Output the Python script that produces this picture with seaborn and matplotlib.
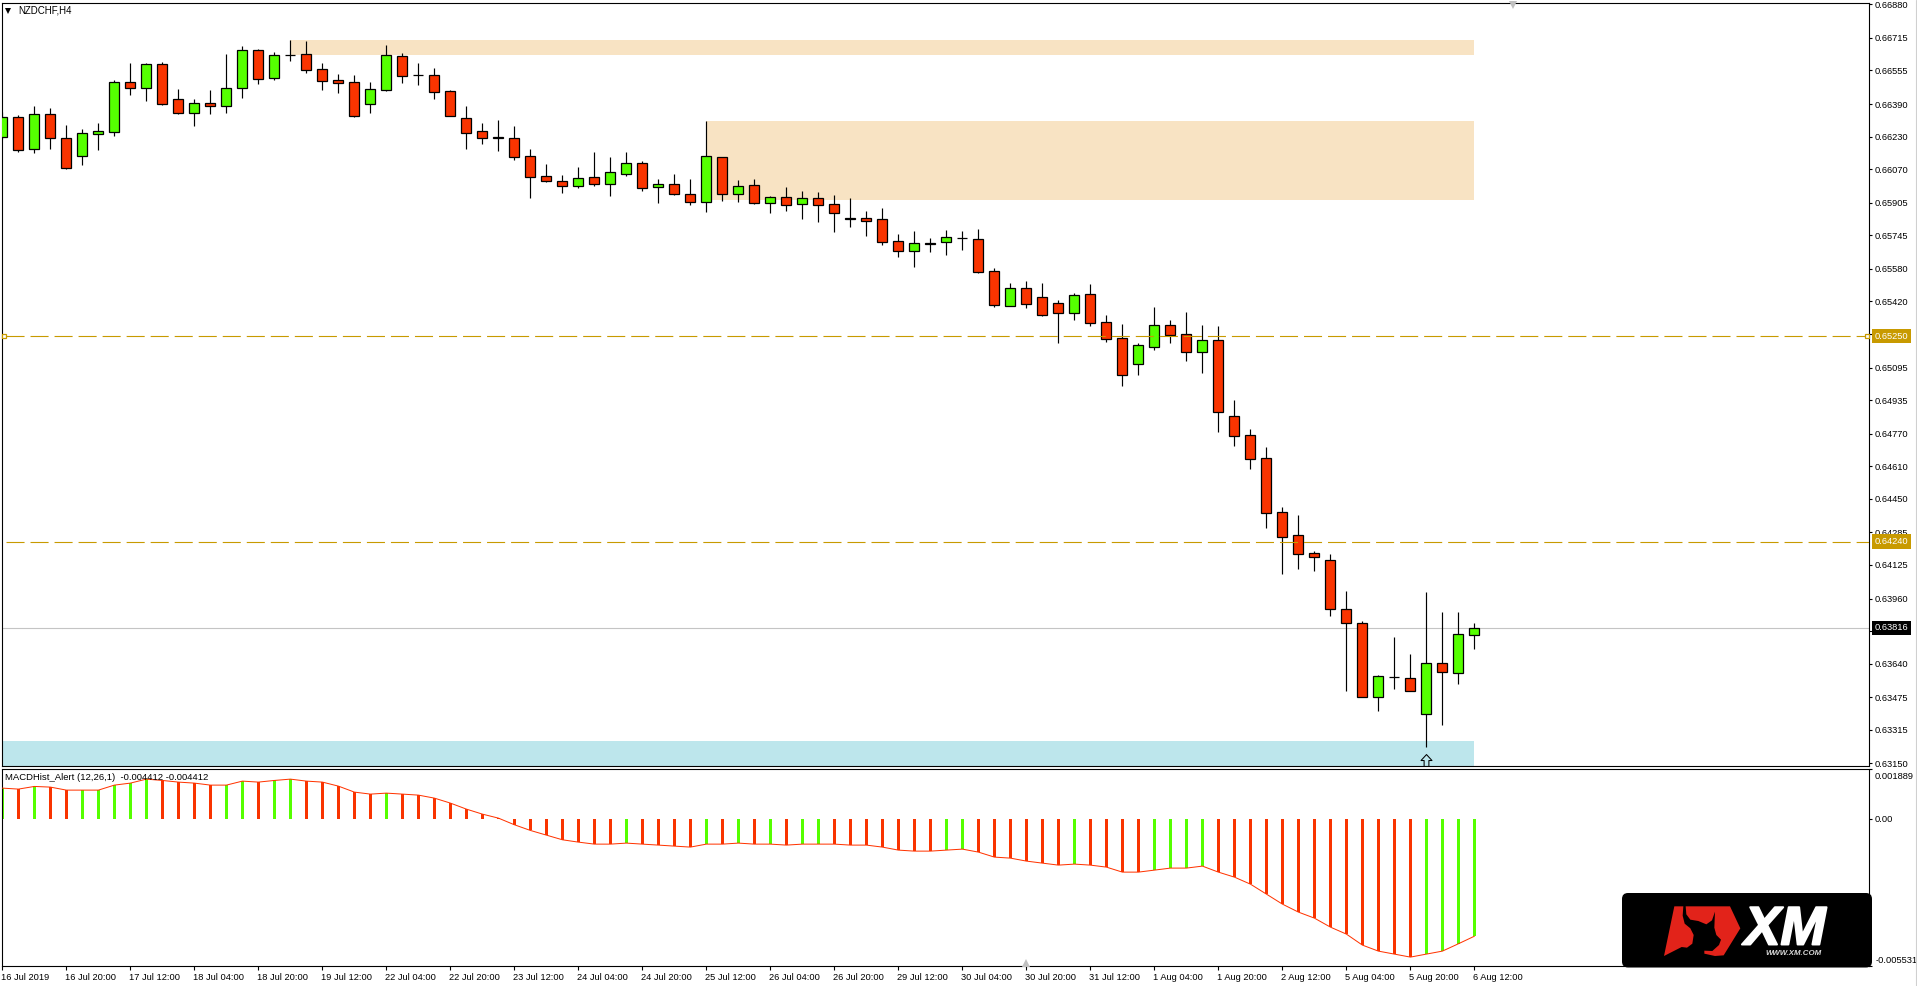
import numpy as np
import pandas as pd
import matplotlib
matplotlib.use("Agg")
import matplotlib.pyplot as plt
import matplotlib.patheffects as pe
from matplotlib.patches import FancyBboxPatch, Polygon
from matplotlib.path import Path
from matplotlib.transforms import ScaledTranslation
import seaborn as sns

# ── Data ───────────────────────────────────────────────────────

bar_open = [
    0.66226, 0.66325, 0.66167, 0.66339, 0.66221, 0.66133, 0.66244, 0.66254, 0.66497, 0.66470,
    0.66585, 0.66413, 0.66348, 0.66393, 0.66379, 0.66467, 0.66654, 0.66520, 0.66629, 0.66634,
    0.66561, 0.66507, 0.66497, 0.66392, 0.66461, 0.66624, 0.66531, 0.66531, 0.66452, 0.66320,
    0.66256, 0.66226, 0.66221, 0.66133, 0.66035, 0.66010, 0.65989, 0.66030, 0.65999, 0.66048,
    0.66099, 0.65984, 0.65995, 0.65946, 0.65910, 0.66128, 0.65950, 0.65990, 0.65905, 0.65931,
    0.65900, 0.65927, 0.65897, 0.65828, 0.65828, 0.65823, 0.65715, 0.65669, 0.65705, 0.65714,
    0.65734, 0.65725, 0.65568, 0.65399, 0.65484, 0.65440, 0.65411, 0.65365, 0.65455, 0.65317,
    0.65239, 0.65114, 0.65198, 0.65302, 0.65258, 0.65173, 0.65229, 0.64855, 0.64762, 0.64649,
    0.64384, 0.64270, 0.64182, 0.64148, 0.63907, 0.63838, 0.63478, 0.63575, 0.63568, 0.63394,
    0.63641, 0.63595, 0.63782,
]
bar_high = [
    0.66349, 0.66335, 0.66380, 0.66371, 0.66287, 0.66266, 0.66297, 0.66507, 0.66592, 0.66590,
    0.66597, 0.66464, 0.66415, 0.66459, 0.66636, 0.66674, 0.66659, 0.66646, 0.66705, 0.66700,
    0.66592, 0.66538, 0.66533, 0.66498, 0.66680, 0.66639, 0.66592, 0.66567, 0.66459, 0.66380,
    0.66297, 0.66312, 0.66282, 0.66169, 0.66095, 0.66041, 0.66081, 0.66154, 0.66130, 0.66154,
    0.66108, 0.66022, 0.66046, 0.66022, 0.66307, 0.66128, 0.66017, 0.66022, 0.65938, 0.65982,
    0.65963, 0.65958, 0.65943, 0.65928, 0.65864, 0.65879, 0.65751, 0.65766, 0.65732, 0.65771,
    0.65766, 0.65776, 0.65584, 0.65510, 0.65520, 0.65510, 0.65427, 0.65461, 0.65506, 0.65353,
    0.65309, 0.65216, 0.65393, 0.65329, 0.65368, 0.65304, 0.65299, 0.64936, 0.64793, 0.64705,
    0.64410, 0.64370, 0.64193, 0.64179, 0.63997, 0.63849, 0.63584, 0.63771, 0.63687, 0.63992,
    0.63894, 0.63894, 0.63840,
]
bar_low = [
    0.66218, 0.66156, 0.66151, 0.66171, 0.66072, 0.66090, 0.66166, 0.66235, 0.66434, 0.66405,
    0.66385, 0.66341, 0.66282, 0.66341, 0.66346, 0.66420, 0.66488, 0.66508, 0.66602, 0.66543,
    0.66459, 0.66444, 0.66326, 0.66346, 0.66454, 0.66493, 0.66484, 0.66415, 0.66331, 0.66169,
    0.66194, 0.66159, 0.66115, 0.65928, 0.66007, 0.65953, 0.65977, 0.65987, 0.65938, 0.66036,
    0.65964, 0.65904, 0.65945, 0.65894, 0.65859, 0.65913, 0.65909, 0.65899, 0.65854, 0.65864,
    0.65825, 0.65810, 0.65761, 0.65786, 0.65742, 0.65697, 0.65638, 0.65589, 0.65663, 0.65648,
    0.65673, 0.65560, 0.65393, 0.65399, 0.65388, 0.65348, 0.65216, 0.65329, 0.65299, 0.65221,
    0.65004, 0.65058, 0.65181, 0.65216, 0.65127, 0.65068, 0.64778, 0.64710, 0.64597, 0.64306,
    0.64080, 0.64105, 0.64095, 0.63874, 0.63505, 0.63478, 0.63407, 0.63515, 0.63505, 0.63230,
    0.63338, 0.63540, 0.63712,
]
bar_close = [
    0.66325, 0.66166, 0.66339, 0.66221, 0.66077, 0.66246, 0.66256, 0.66497, 0.66467, 0.66585,
    0.66392, 0.66348, 0.66393, 0.66379, 0.66467, 0.66654, 0.66515, 0.66629, 0.66629, 0.66559,
    0.66505, 0.66495, 0.66333, 0.66462, 0.66629, 0.66529, 0.66531, 0.66451, 0.66333, 0.66249,
    0.66225, 0.66223, 0.66131, 0.66033, 0.66013, 0.65989, 0.66025, 0.65999, 0.66054, 0.66099,
    0.65976, 0.65995, 0.65950, 0.65910, 0.66133, 0.65950, 0.65986, 0.65905, 0.65931, 0.65895,
    0.65927, 0.65895, 0.65856, 0.65825, 0.65817, 0.65714, 0.65669, 0.65705, 0.65702, 0.65735,
    0.65731, 0.65566, 0.65404, 0.65484, 0.65409, 0.65355, 0.65365, 0.65450, 0.65316, 0.65237,
    0.65060, 0.65204, 0.65302, 0.65257, 0.65173, 0.65229, 0.64878, 0.64760, 0.64647, 0.64382,
    0.64264, 0.64180, 0.64166, 0.63907, 0.63841, 0.63478, 0.63578, 0.63572, 0.63507, 0.63641,
    0.63600, 0.63784, 0.63816,
]

macd_hist = [
    0.001152, 0.001115, 0.001215, 0.001190, 0.001077, 0.001077, 0.001077, 0.001265, 0.001340, 0.001490,
    0.001440, 0.001378, 0.001340, 0.001265, 0.001265, 0.001415, 0.001378, 0.001440, 0.001490, 0.001415,
    0.001378, 0.001227, 0.001002, 0.000927, 0.000964, 0.000927, 0.000889, 0.000776, 0.000589, 0.000363,
    0.000175, 0.000025, -0.000225, -0.000438, -0.000614, -0.000789, -0.000877, -0.000952, -0.000952, -0.000914,
    -0.000952, -0.000989, -0.001027, -0.001064, -0.000952, -0.000952, -0.000914, -0.000952, -0.000952, -0.000989,
    -0.000952, -0.000952, -0.000952, -0.000989, -0.000989, -0.001064, -0.001177, -0.001215, -0.001215, -0.001177,
    -0.001140, -0.001252, -0.001440, -0.001478, -0.001590, -0.001666, -0.001741, -0.001703, -0.001741, -0.001816,
    -0.002004, -0.002004, -0.001929, -0.001853, -0.001853, -0.001778, -0.002004, -0.002192, -0.002455, -0.002830,
    -0.003206, -0.003506, -0.003732, -0.004070, -0.004333, -0.004746, -0.004972, -0.005084, -0.005197, -0.005084,
    -0.004972, -0.004696, -0.004412,
]
macd_color = list(
    "GRGRRGGGGGRRRRGGRGGRRRRRG"
    "RRRRRRRRRRRRRR"
    "GRRRRGRGRGRGG"
    "RRRRRRRGGRRRRRRGRRRR"
    "GGGG"
    "RRRRRRRRRRRRR"
    "GGGG"
)

time_labels = [
    "16 Jul 2019", "16 Jul 20:00", "17 Jul 12:00", "18 Jul 04:00", "18 Jul 20:00", "19 Jul 12:00",
    "22 Jul 04:00", "22 Jul 20:00", "23 Jul 12:00", "24 Jul 04:00", "24 Jul 20:00", "25 Jul 12:00",
    "26 Jul 04:00", "26 Jul 20:00", "29 Jul 12:00", "30 Jul 04:00", "30 Jul 20:00", "31 Jul 12:00",
    "1 Aug 04:00", "1 Aug 20:00", "2 Aug 12:00", "5 Aug 04:00", "5 Aug 20:00", "6 Aug 12:00",
]
price_ticks = [
    0.66880, 0.66715, 0.66555, 0.66390, 0.66230, 0.66070, 0.65905, 0.65745, 0.65580, 0.65420, 0.65260,
    0.65095, 0.64935, 0.64770, 0.64610, 0.64450, 0.64285, 0.64125, 0.63960, 0.63800, 0.63640, 0.63475,
    0.63315, 0.63150,
]
macd_ticks = [0.001889, 0.0, -0.005531]
macd_tick_labels = ["0.001889", "0.00", "-0.005531"]

level_prices = [0.65250, 0.64240]
last_price = 0.63816
supply_zones = [(18, 92, 0.66631, 0.66705), (44, 92, 0.65918, 0.66307)]
demand_zone = (92, 0.63137, 0.63260)
arrow_bar = 89
arrow_price = 0.63137

# ── Styles ─────────────────────────────────────────────────────

W, H = 1917, 986
LEFT, RIGHT = 1.5, 1869.0
BAR_PX, BAR0_PX = 16.0, 2.4

RED = "#F93400"
GREEN = "#55FF00"
GOLD = "#C89A00"
SAND = "#F8E3C3"
SKY = "#BDE6EC"

sns.set_theme(style="white")
plt.rcParams["font.family"] = ["Liberation Sans", "DejaVu Sans"]
plt.rcParams["lines.scale_dashes"] = False


def axes_rect(top, bottom):
    return [LEFT / W, 1 - bottom / H, (RIGHT - LEFT) / W, (bottom - top) / H]


fig = plt.figure(figsize=(W / 100, H / 100), dpi=100, facecolor="white")
ax = fig.add_axes(axes_rect(2.5, 766.0))
ax2 = fig.add_axes(axes_rect(768.5, 966.0))

bars = np.arange(len(bar_open))
opens, highs, lows, closes = map(np.array, (bar_open, bar_high, bar_low, bar_close))
xlim = ((LEFT - BAR0_PX) / BAR_PX, (RIGHT - BAR0_PX) / BAR_PX)

# ── Price pane ─────────────────────────────────────────────────

for x0, x1, lo, hi in supply_zones:
    ax.fill_between([x0, x1], lo, hi, color=SAND, linewidth=0, zorder=1)
ax.fill_between([xlim[0], demand_zone[0]], demand_zone[1], demand_zone[2],
                color=SKY, linewidth=0, zorder=1)

ax.axhline(last_price, color="#C4C4C4", linewidth=0.8, zorder=1.5)
ax.vlines(bars, lows, highs, color="black", linewidth=0.85, zorder=2)
ax.bar(bars, closes - opens, bottom=opens, width=0.62,
       color=np.where(closes >= opens, GREEN, RED),
       edgecolor="black", linewidth=0.9, zorder=3)

for price in level_prices:
    ax.plot([xlim[0] + 0.3, xlim[1]], [price, price], color=GOLD, linewidth=0.8,
            linestyle=(0, (13, 4.3)), zorder=4)
ax.plot([0.13, xlim[1] - 0.14], [level_prices[0]] * 2, linestyle="none", marker="s",
        markersize=3.4, markerfacecolor="white", markeredgecolor=GOLD,
        markeredgewidth=0.9, zorder=5, clip_on=False)

arrow_marker = Path([(-2, 0), (-2, 5), (-4.6, 5), (0, 10), (4.6, 5), (2, 5), (2, 0), (-2, 0)], closed=True)
ax.plot([arrow_bar], [arrow_price], marker=arrow_marker, markersize=17.2, linestyle="none",
        markerfacecolor="none", markeredgecolor="black", markeredgewidth=0.75, zorder=5)

ax.set_xlim(xlim)
ax.set_ylim(0.63137, 0.66889)
ax.set_xticks([])
ax.set_yticks(price_ticks)
ax.set_yticklabels([f"{t:.5f}" for t in price_ticks])

for price, box in [(level_prices[0], GOLD), (level_prices[1], GOLD), (last_price, "black")]:
    ax.annotate(f"{price:.5f}", xy=(1, price), xycoords=ax.get_yaxis_transform(),
                xytext=(4.2, 0), textcoords="offset points", ha="left", va="center",
                color="white", fontsize=6.7, annotation_clip=False, zorder=10,
                bbox=dict(facecolor=box, edgecolor="none", pad=2.0))

ax.text(16.7 / (RIGHT - LEFT), 1 - 8.2 / 763.5, "NZDCHF,H4", transform=ax.transAxes,
        ha="left", va="center", fontsize=7, color="black", zorder=6)

# ── MACD pane ──────────────────────────────────────────────────

df = pd.DataFrame({"bar": bars, "macd": macd_hist, "kind": macd_color})
sns.barplot(data=df, x="bar", y="macd", hue="kind", palette={"G": GREEN, "R": RED},
            native_scale=True, dodge=False, width=0.15, saturation=1, legend=False,
            linewidth=0, ax=ax2, zorder=2)
sns.lineplot(data=df, x="bar", y="macd", color="#FF3300", linewidth=0.72,
             errorbar=None, ax=ax2, zorder=3)

ax2.set(xlabel="", ylabel="")
ax2.set_xlim(xlim)
ax2.set_ylim(-0.005531, 0.001889)
ax2.set_xticks(bars[::4])
ax2.set_xticklabels(time_labels)
ax2.set_yticks(macd_ticks)
ax2.set_yticklabels(macd_tick_labels)
ax2.text(3.9 / (RIGHT - LEFT), 1 - 8.8 / 197.5,
         "MACDHist_Alert (12,26,1)  -0.004412 -0.004412", transform=ax2.transAxes,
         ha="left", va="center", fontsize=6.8, color="black", zorder=6)

# ── Axis chrome ────────────────────────────────────────────────

for a in (ax, ax2):
    a.set_facecolor("white")
    a.yaxis.tick_right()
    a.tick_params(axis="y", right=True, left=False, labelright=True, labelleft=False,
                  length=2.4, width=0.8, pad=2.0, labelsize=6.7, labelcolor="black", color="black")
    for spine in a.spines.values():
        spine.set_visible(True)
        spine.set_color("black")
        spine.set_linewidth(0.8)

ax2.tick_params(axis="x", bottom=True, length=2.6, width=0.8, pad=2.2, labelsize=6.7,
                labelcolor="black", color="black")
for label in ax2.get_xticklabels():
    label.set_ha("left")
    label.set_transform(label.get_transform() + ScaledTranslation(-1 / 100, 0, fig.dpi_scale_trans))

y_labels = ax2.get_yticklabels()
y_labels[0].set_transform(y_labels[0].get_transform() + ScaledTranslation(0, -7 / 100, fig.dpi_scale_trans))
y_labels[2].set_transform(y_labels[2].get_transform() + ScaledTranslation(0, 6.5 / 100, fig.dpi_scale_trans))

# ── Pixel overlay: handle triangles and the broker logo ────────

over = fig.add_axes([0, 0, 1, 1], zorder=20)
over.set_xlim(0, W)
over.set_ylim(H, 0)
over.axis("off")
over.patch.set_alpha(0)

over.plot([1915.5, 1915.5], [0, H], color="#D0D0D0", linewidth=0.8)
over.plot([8], [10.8], marker="v", markersize=4.6, color="black", markeredgewidth=0)
over.plot([1513], [5.4], marker="v", markersize=6.4, color="#C0C0C0", markeredgewidth=0)
over.plot([1026], [962.6], marker="^", markersize=6.4, color="#C0C0C0", markeredgewidth=0)


def logo_pts(pts):
    return [(1615 + x / 3, 885 + y / 3) for x, y in pts]


over.add_patch(FancyBboxPatch((1626, 897), 242, 66.5, boxstyle="round,pad=4,rounding_size=6",
                              facecolor="black", edgecolor="none"))
logo_red = [
    [(147, 213), (178, 64), (205, 64), (203, 92), (209, 116), (226, 130), (236, 150), (232, 176),
     (216, 188), (200, 186)],
    [(212, 64), (345, 64), (376, 130), (326, 211), (300, 213), (268, 206), (268, 197), (292, 198),
     (312, 180), (318, 164), (304, 150), (298, 128), (300, 80), (291, 106), (274, 118), (250, 108),
     (226, 104), (214, 88)],
]
for shape in logo_red:
    over.add_patch(Polygon(logo_pts(shape), closed=True, facecolor="#E2231A", edgecolor="none"))
logo_text = over.text(1785, 925, "XM", color="white", fontsize=39, fontweight="bold",
                      fontstyle="italic", ha="center", va="center_baseline")
logo_text.set_path_effects([pe.withStroke(linewidth=1.4, foreground="white")])
over.text(1793, 953.5, "WWW.XM.COM", color="#D8D8D8", fontsize=5.7, fontweight="bold",
          fontstyle="italic", ha="center", va="center")

fig.savefig("out.png", dpi=100, facecolor="white")
plt.close(fig)
